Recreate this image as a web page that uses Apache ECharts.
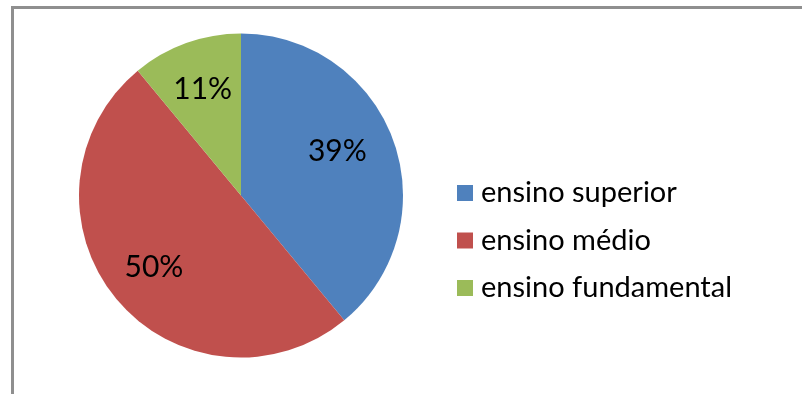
<!DOCTYPE html>
<html>
<head>
<meta charset="utf-8">
<script src="https://cdn.jsdelivr.net/npm/echarts@6/dist/echarts.min.js"></script>
<style>
  html, body { margin: 0; padding: 0; background: #fff; }
  #chart { width: 802px; height: 394px; }
</style>
</head>
<body>
<div id="chart"></div>
<script>
// Education level shares
const categories = ['ensino superior', 'ensino médio', 'ensino fundamental'];
const values = [39, 50, 11];
const colors = ['#4F81BD', '#C0504D', '#9BBB59'];

const FONT = 'Lato, "Open Sans", sans-serif';
const pieData = categories.map((name, i) => ({ name, value: values[i], itemStyle: { color: colors[i] } }));

const chart = echarts.init(document.getElementById('chart'), null, { renderer: 'canvas' });
chart.setOption({
  animation: false,
  backgroundColor: '#ffffff',
  graphic: [{
    type: 'rect',
    shape: { x: 12.5, y: 7.5, width: 900, height: 500 },
    style: { fill: 'none', stroke: '#8f8f8f', lineWidth: 3 },
    silent: true
  }],
  legend: {
    orient: 'vertical',
    left: 452,
    top: 173,
    icon: 'rect',
    itemWidth: 16,
    itemHeight: 16,
    itemGap: 17.5,
    data: categories,
    selectedMode: false,
    textStyle: { fontFamily: FONT, fontSize: 29, color: '#000', lineHeight: 30, padding: [0, 0, 0, 3] }
  },
  series: [
    {
      type: 'pie',
      center: [241, 195.5],
      radius: [0, 162],
      startAngle: 90,
      clockwise: true,
      silent: true,
      label: { show: false },
      labelLine: { show: false },
      data: pieData
    },
    {
      // transparent ring used only to place the percentage labels
      type: 'pie',
      center: [241, 195.5],
      radius: [0, 220],
      startAngle: 90,
      clockwise: true,
      silent: true,
      itemStyle: { color: 'rgba(0,0,0,0)' },
      label: {
        show: true,
        position: 'inside',
        formatter: p => p.value + '%',
        fontFamily: FONT,
        fontSize: 30,
        color: '#000'
      },
      labelLine: { show: false },
      data: categories.map((name, i) => ({
        name,
        value: values[i],
        itemStyle: { color: 'rgba(0,0,0,0)' },
        label: i === 0 ? { offset: [-10, -6] } : undefined
      }))
    }
  ]
});
</script>
</body>
</html>
